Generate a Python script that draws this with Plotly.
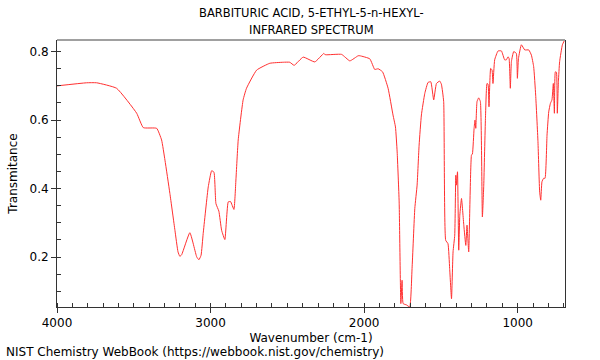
import plotly.graph_objects as go

wavenumber = [4000, 3807, 3742, 3612, 3481, 3438, 3351, 3319, 3297, 3265, 3232, 3212, 3200, 3188, 3135,
              3090, 3076, 3062, 3048, 3015, 2993, 2978, 2965, 2946, 2928, 2907, 2885, 2870, 2848, 2835, 2820,
              2788, 2766, 2700, 2614, 2527, 2484, 2456, 2397, 2321, 2262, 2253, 2147, 2093, 2039,
              2028, 1963, 1931, 1909, 1880, 1844, 1812, 1796, 1785, 1772, 1761, 1753, 1746, 1724,
              1703, 1688, 1670, 1655, 1642, 1627, 1605, 1584, 1566, 1547, 1529, 1508, 1497, 1482,
              1469, 1454, 1443, 1431, 1421, 1410, 1403, 1399, 1392, 1384, 1377, 1366, 1351, 1338,
              1330, 1319, 1301, 1295, 1284, 1278, 1273, 1265, 1254, 1243, 1230, 1221, 1210, 1200,
              1193, 1187, 1176, 1167, 1161, 1150, 1128, 1106, 1085, 1074, 1063, 1056, 1048, 1041,
              1026, 1009, 1002, 995, 976, 954, 928, 911, 896, 883, 868, 857, 850, 842, 831, 822,
              809, 798, 787, 777, 768, 761, 755, 748, 742, 735, 727, 709, 694]
transmittance = [0.700, 0.709, 0.709, 0.693, 0.620, 0.578, 0.576, 0.542, 0.483, 0.386, 0.278, 0.215, 0.202, 0.207, 0.271,
                 0.200, 0.192, 0.205, 0.269, 0.405, 0.452, 0.448, 0.356, 0.334, 0.278, 0.251, 0.361, 0.362, 0.339, 0.425, 0.542,
                 0.659, 0.693, 0.746, 0.766, 0.769, 0.769, 0.760, 0.784, 0.770, 0.795, 0.791, 0.792, 0.773, 0.788,
                 0.788, 0.779, 0.748, 0.750, 0.741, 0.693, 0.615, 0.580, 0.507, 0.361, 0.064, 0.132, 0.064, 0.060,
                 0.054, 0.166, 0.342, 0.410, 0.527, 0.615, 0.678, 0.710, 0.712, 0.659, 0.707, 0.714, 0.705, 0.654,
                 0.249, 0.239, 0.166, 0.078, 0.215, 0.264, 0.439, 0.410, 0.449, 0.220, 0.322, 0.371, 0.293, 0.234,
                 0.293, 0.215, 0.498, 0.501, 0.576, 0.600, 0.576, 0.654, 0.665, 0.654, 0.317, 0.410, 0.605, 0.707,
                 0.705, 0.639, 0.751, 0.746, 0.707, 0.776, 0.802, 0.802, 0.776, 0.776, 0.785, 0.780, 0.693, 0.771,
                 0.800, 0.795, 0.722, 0.780, 0.820, 0.805, 0.805, 0.790, 0.756, 0.673, 0.537, 0.390, 0.366, 0.420, 0.430, 0.430,
                 0.556, 0.624, 0.649, 0.659, 0.707, 0.620, 0.741, 0.740, 0.620, 0.712, 0.771, 0.820, 0.834]

x_ticks = [4000, 3000, 2000, 1000]
y_ticks = [0.2, 0.4, 0.6, 0.8]
title_lines = ["BARBITURIC ACID, 5-ETHYL-5-n-HEXYL-", "INFRARED SPECTRUM"]

fig = go.Figure()
fig.add_trace(go.Scatter(x=wavenumber, y=transmittance, mode="lines",
                         line=dict(color="#ff3030", width=1, shape="spline", smoothing=0.4),
                         hoverinfo="skip"))

font = dict(family="DejaVu Sans", size=12, color="#000000")
title_font = dict(family="DejaVu Sans", size=11.5, color="#000000")
fig.update_layout(
    width=600, height=360,
    margin=dict(l=57, r=35, t=40, b=53),
    paper_bgcolor="white", plot_bgcolor="white",
    showlegend=False,
    font=font,
)
fig.update_xaxes(
    range=[4000, 692], tickvals=x_ticks, ticktext=[str(v) for v in x_ticks],
    showgrid=False, zeroline=False, showline=True, linecolor="#333333", linewidth=1,
    ticks="outside", ticklen=5, tickcolor="#333333",
    minor=dict(dtick=100, ticks="inside", ticklen=4, tickcolor="#333333", showgrid=False),
    title=dict(text="Wavenumber (cm-1)", standoff=4, font=font),
    tickfont=font,
)
fig.update_yaxes(
    range=[0.054, 0.834], tickvals=y_ticks, ticktext=[str(v) for v in y_ticks],
    showgrid=False, zeroline=False, showline=True, linecolor="#333333", linewidth=1, mirror=True,
    ticks="outside", ticklen=5, tickcolor="#333333",
    minor=dict(dtick=0.05, tick0=0, ticks="inside", ticklen=4, tickcolor="#333333", showgrid=False),
    title=dict(text="Transmitance", standoff=9, font=font),
    tickfont=font,
)
fig.add_shape(type="line", xref="paper", yref="paper", x0=0, x1=1, y0=1, y1=1,
              line=dict(color="#a0a0a0", width=2))
for i, line in enumerate(title_lines):
    fig.add_annotation(text=line, xref="paper", yref="paper", x=0.5, y=(307 - (13 + 17 * i)) / 267,
                       xanchor="center", yanchor="middle", showarrow=False, font=title_font)
fig.add_annotation(text="NIST Chemistry WebBook (https://webbook.nist.gov/chemistry)",
                   xref="paper", yref="paper", x=-53/508, y=-45/267, xanchor="left", yanchor="middle",
                   showarrow=False, font=font)

fig.write_html("out.html", config={"displayModeBar": False},
               post_script="document.body.style.margin='0';document.body.style.overflow='hidden';")
